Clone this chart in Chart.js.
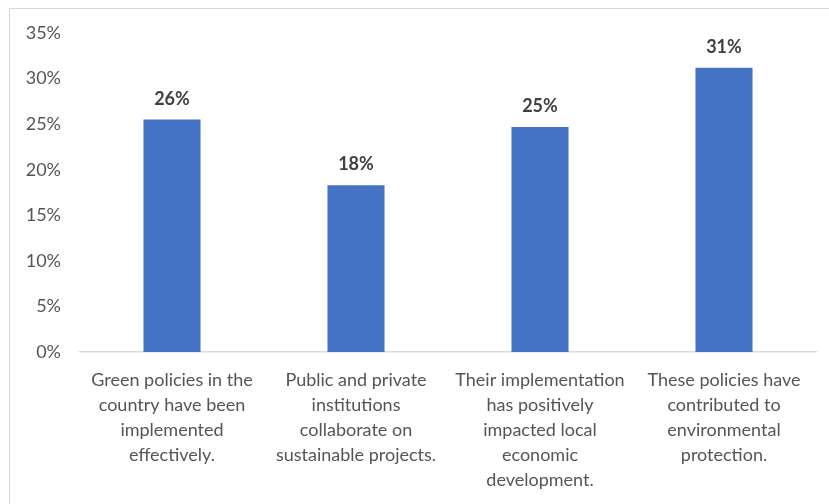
<!DOCTYPE html>
<html>
<head>
<meta charset="utf-8">
<script src="https://cdn.jsdelivr.net/npm/chart.js@4.4.1/dist/chart.umd.min.js"></script>
<style>
  html, body { margin: 0; padding: 0; background: #ffffff; }
  #wrap { position: relative; width: 829px; height: 504px; }
  #frame {
    position: absolute; left: 9px; top: 8px; width: 830px; height: 510px;
    border-top: 1px solid #d9d9d9; border-left: 1px solid #d9d9d9;
  }
  canvas { position: absolute; left: 0; top: 0; }
</style>
</head>
<body>
<div id="wrap">
  <div id="frame"></div>
  <canvas id="chart" width="829" height="504"></canvas>
</div>
<script>
// Chart data
var categories = [
    ['Green policies in the', 'country have been', 'implemented', 'effectively.'],
    ['Public and private', 'institutions', 'collaborate on', 'sustainable projects.'],
    ['Their implementation', 'has positively', 'impacted local', 'economic', 'development.'],
    ['These policies have', 'contributed to', 'environmental', 'protection.']
];
var shares = [25.5, 18.3, 24.7, 31.2];
var yTicks = [0, 5, 10, 15, 20, 25, 30, 35];

var FONT = 'Lato, "Open Sans", sans-serif';

// value labels above each bar
var barLabels = {
    id: 'barLabels',
    afterDatasetsDraw: function (chart) {
        var ctx = chart.ctx;
        var meta = chart.getDatasetMeta(0);
        ctx.save();
        ctx.font = 'bold 18px ' + FONT;
        ctx.fillStyle = '#404040';
        ctx.textAlign = 'center';
        ctx.textBaseline = 'alphabetic';
        meta.data.forEach(function (bar, i) {
            ctx.fillText(Math.round(shares[i]) + '%', bar.x, bar.y - 15);
        });
        ctx.restore();
    }
};

new Chart(document.getElementById('chart'), {
    type: 'bar',
    data: {
        labels: categories,
        datasets: [{
            data: shares,
            backgroundColor: '#4472c4',
            borderWidth: 0,
            categoryPercentage: 1,
            barPercentage: 0.31
        }]
    },
    options: {
        responsive: false,
        animation: false,
        layout: { padding: { top: 33, right: 13, left: 0, bottom: 0 } },
        plugins: { legend: { display: false }, tooltip: { enabled: false } },
        scales: {
            x: {
                grid: { display: false, drawTicks: false },
                border: { display: true, color: '#d9d9d9', width: 1.5 },
                ticks: {
                    color: '#555555', padding: 16, maxRotation: 0, autoSkip: false,
                    font: { size: 18, family: FONT, lineHeight: 1.39 }
                },
                afterFit: function (s) { s.height = 152; }
            },
            y: {
                min: 0, max: 35,
                afterBuildTicks: function (s) {
                    s.ticks = yTicks.map(function (v) { return { value: v }; });
                },
                grid: { display: false, drawTicks: false },
                border: { display: false },
                ticks: {
                    color: '#555555', padding: 19,
                    font: { size: 18, family: FONT },
                    callback: function (v) { return v + '%'; }
                },
                afterFit: function (s) { s.width = 80; }
            }
        }
    },
    plugins: [barLabels]
});
</script>
</body>
</html>
